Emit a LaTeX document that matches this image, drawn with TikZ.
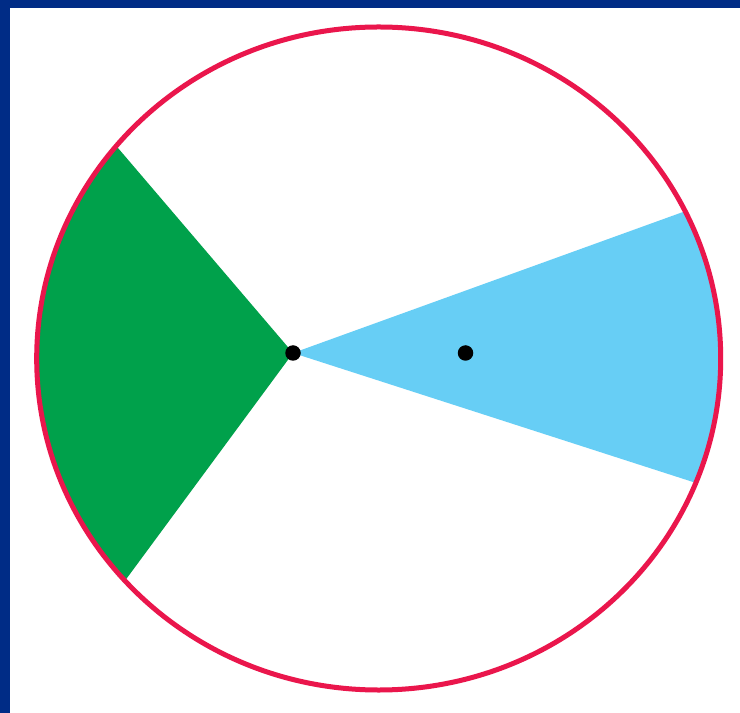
\documentclass[tikz,border=0pt]{standalone}
\definecolor{frameblue}{RGB}{0,44,134}
\definecolor{rimred}{RGB}{234,22,76}
\definecolor{wedgegreen}{RGB}{0,161,75}
\definecolor{wedgeblue}{RGB}{103,206,245}
\tikzset{
	dot/.style={circle, fill=black, inner sep=0pt, minimum size=3.1mm},
}
\begin{document}
\begin{tikzpicture}[x=0.2mm, y=-0.2mm]
	\useasboundingbox (0,0) rectangle (740,713);
	\fill[color=frameblue] (0,0) rectangle (740,713);
	\fill[color=white] (10,8) rectangle (740,713);
	% wedges from the left dot, cut off by the rim
	\begin{scope}
		\clip (378.7,358.5) ellipse [x radius=68.4mm, y radius=66.3mm];
		\fill[color=wedgegreen] (293,353) -- (-57,-57) -- (-300,353) -- (-39,803) -- cycle;
		\fill[color=wedgeblue] (293,353) -- (1073,71) -- (1093,611) -- cycle;
	\end{scope}
	\draw[line width=1mm, color=rimred] (378.7,358.5) ellipse [x radius=68.4mm, y radius=66.3mm];
	\node[dot] (apex) at (293,353) {};
	\node[dot] (inner) at (465.5,353) {};
\end{tikzpicture}
\end{document}
